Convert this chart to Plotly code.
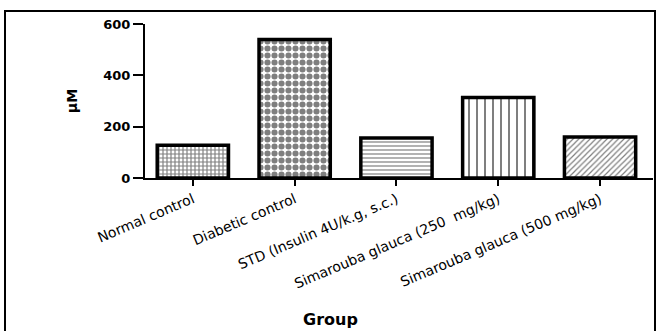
import plotly.graph_objects as go

# Group labels and measured levels (µM)
groups = [
    "Normal control",
    "Diabetic control",
    "STD (Insulin 4U/k.g, s.c.)",
    "Simarouba glauca (250  mg/kg)",
    "Simarouba glauca (500 mg/kg)",
]
values = [128, 540, 156, 314, 160]
fill_shapes = ["+", ".", "-", "|", "/"]
fill_sizes = [4, 7, 4, 8, 4]
fill_solidity = [0.5, 0.6, 0.3, 0.25, 0.3]
y_ticks = [0, 200, 400, 600]

W, H = 658, 331
L, R, T, B = 145, 5, 24, 153
pw, ph = W - L - R, H - T - B


def px_x(p):
    return (p - L) / pw


def px_y(p):
    return (H - B - p) / ph


fig = go.Figure()
for g, v, s, sz, so in zip(groups, values, fill_shapes, fill_sizes, fill_solidity):
    fig.add_trace(go.Bar(
        x=[g], y=[v], width=0.7,
        marker=dict(
            color="white",
            line=dict(color="black", width=3.5),
            pattern=dict(shape=s, fgcolor="black", bgcolor="white",
                         size=sz, solidity=so, fillmode="overlay"),
        ),
        showlegend=False,
    ))

fig.update_layout(
    width=W, height=H,
    margin=dict(l=L, r=R, t=T, b=B),
    paper_bgcolor="white", plot_bgcolor="white",
    font=dict(family="DejaVu Sans, Arial, sans-serif", color="black"),
    bargap=0.3,
    xaxis=dict(
        type="category", range=[-0.47, 4.52],
        showline=True, linecolor="black", linewidth=2,
        ticks="outside", ticklen=6, tickwidth=2, tickcolor="black",
        tickangle=-23, tickfont=dict(size=14),
        showgrid=False, zeroline=False,
    ),
    yaxis=dict(
        range=[0, 600], tickvals=y_ticks,
        showline=True, linecolor="black", linewidth=2,
        ticks="outside", ticklen=10, tickwidth=2, tickcolor="black",
        tickfont=dict(size=13, weight="bold"),
        title=dict(text="µM", font=dict(size=14, weight="bold"), standoff=22),
        showgrid=False, zeroline=False,
    ),
    annotations=[dict(
        text="Group", xref="paper", yref="paper",
        x=px_x(330), y=px_y(319), xanchor="center", yanchor="middle",
        showarrow=False, font=dict(size=16, weight="bold"),
    )],
    shapes=[dict(
        type="rect", xref="paper", yref="paper",
        x0=px_x(5), x1=px_x(655), y0=px_y(345), y1=px_y(11),
        line=dict(color="black", width=2), layer="below",
    )],
)

fig.write_html("out.html")
